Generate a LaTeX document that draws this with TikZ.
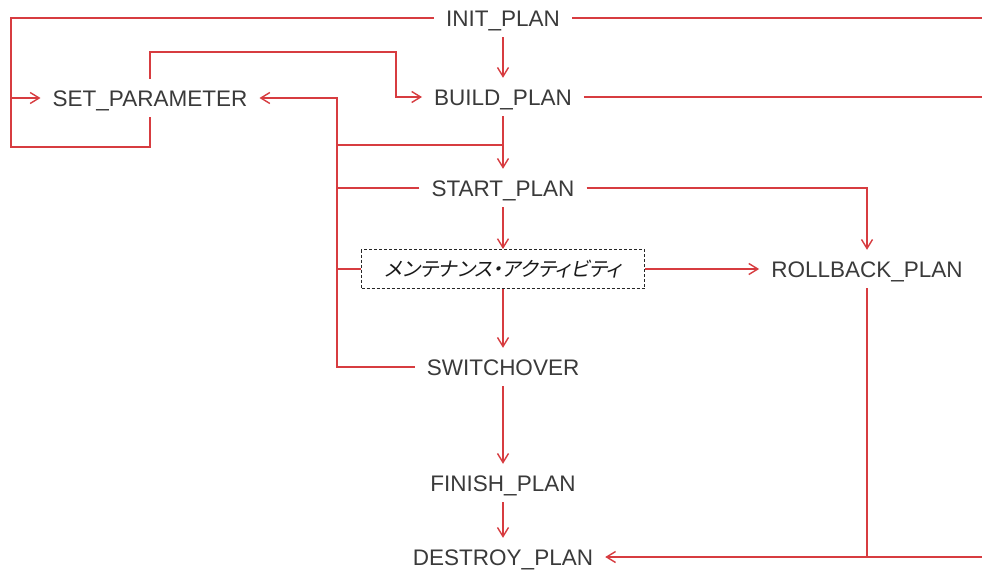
\documentclass[tikz,border=0pt]{standalone}
\usepackage{fontspec}
\setmainfont{Liberation Sans}
\newfontfamily\jpfont[FakeSlant=0.2,RawFeature={+palt}]{Noto Sans CJK JP}
\usetikzlibrary{arrows.meta}
\definecolor{lnred}{RGB}{215,60,64}
\definecolor{txtgray}{RGB}{58,58,58}
\begin{document}
\begin{tikzpicture}[x=1pt,y=-1pt,
  lbl/.style={font=\fontsize{22.5}{22.5}\selectfont, text=txtgray, inner xsep=12pt, inner ysep=11pt, text height=16pt, text depth=0pt},
  redline/.style={draw=lnred, line width=1.4pt},
  redarrow/.style={draw=lnred, line width=1.4pt, -{Straight Barb[length=9pt,width=11pt]}},
  actbox/.style={draw=black!85, dash pattern=on 3pt off 2pt, line width=1pt, minimum width=283pt, minimum height=39pt, inner sep=0pt, text=black!90}]
\fill[white] (0,0) rectangle (982,571);
\useasboundingbox (0,0) rectangle (982,571);

% nodes
\node[lbl] (init) at (503,18) {INIT\_PLAN};
\node[lbl] (build) at (503,97) {BUILD\_PLAN};
\node[lbl] (setp) at (150,98) {SET\_PARAMETER};
\node[lbl] (start) at (503,188) {START\_PLAN};
\node[actbox] (box) at (503,269) {\jpfont\fontsize{20}{20}\selectfont メンテナンス・アクティビティ};
\node[lbl] (rollback) at (867,269) {ROLLBACK\_PLAN};
\node[lbl] (switch) at (503,367) {SWITCHOVER};
\node[lbl] (finish) at (503,483) {FINISH\_PLAN};
\node[lbl] (destroy) at (503,557) {DESTROY\_PLAN};

% helper coordinates
\coordinate (lc) at (11,98);
\coordinate (lb) at (11,147);
\coordinate (tp) at (396,52);
\coordinate (tk) at (337,98);
\coordinate (bj) at (503,145);
\coordinate (rc) at (982,0);
\coordinate (re) at (982,557);

% connectors
\draw[redarrow] (init) -- (build);
\draw[redarrow] (init.west) -| (lc) -- (setp.west);
\draw[redline] (setp.south) |- (lb) -- (lc);
\draw[redarrow] (setp.north) |- (tp) |- (build.west);
\draw[redarrow] (switch.west) -| (tk) -- (setp.east);
\draw[redline] (start.west) -- (start.west -| tk);
\draw[redline] (box.west) -- (box.west -| tk);
\draw[redline] (tk |- bj) -- (bj);
\draw[redarrow] (build) -- (start);
\draw[redline] (init.east) -- (init.east -| rc);
\draw[redline] (build.east) -- (build.east -| rc);
\draw[redarrow] (start.east) -| (rollback.north);
\draw[redarrow] (start) -- (box);
\draw[redarrow] (box) -- (rollback);
\draw[redarrow] (box) -- (switch);
\draw[redarrow] (switch) -- (finish);
\draw[redarrow] (finish) -- (destroy);
\draw[redline] (rollback.south) -- (rollback.south |- re);
\draw[redarrow] (re) -- (destroy.east);
\end{tikzpicture}
\end{document}
